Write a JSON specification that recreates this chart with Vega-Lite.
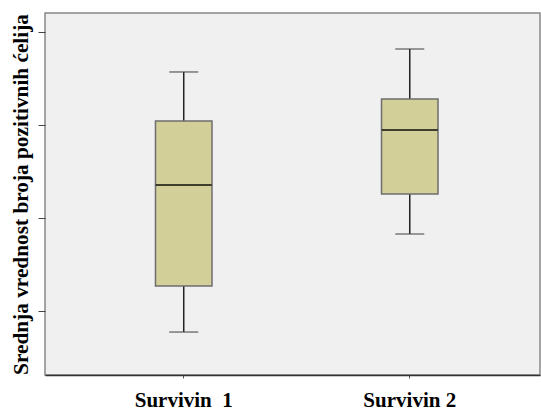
{
  "$schema": "https://vega.github.io/schema/vega-lite/v6.json",
  "autosize": {"type": "none"},
  "width": 495,
  "height": 362,
  "padding": {"left": 45, "top": 13, "right": 1, "bottom": 35},
  "background": "white",
  "config": {
    "view": {"fill": "#f0f0f0", "stroke": "#888888", "strokeWidth": 1.5},
    "font": "Liberation Serif"
  },
  "data": {
    "values": [
      {"grupa": "Survivin \u00a01", "min": 0.774, "q1": 1.269, "median": 2.355, "q3": 3.043, "max": 3.570},
      {"grupa": "Survivin 2", "min": 1.828, "q1": 2.258, "median": 2.946, "q3": 3.280, "max": 3.817}
    ]
  },
  "encoding": {
    "x": {
      "field": "grupa",
      "type": "nominal",
      "sort": null,
      "scale": {"paddingInner": 0.75, "paddingOuter": 0.47, "align": 0.52},
      "axis": {
        "title": null,
        "labelAngle": 0,
        "labelFont": "Liberation Serif",
        "labelFontWeight": "bold",
        "labelFontSize": 21,
        "labelColor": "black",
        "labelPadding": 11,
        "tickSize": 3,
        "tickColor": "#555555",
        "domainColor": "#333333",
        "domainWidth": 1.5
      }
    }
  },
  "layer": [
    {
      "mark": {"type": "rule", "color": "#222222", "strokeWidth": 1.5},
      "encoding": {
        "y": {
          "field": "min",
          "type": "quantitative",
          "scale": {"domain": [0.312, 4.204], "nice": false, "zero": false},
          "axis": {
            "title": "Srednja vrednost broja pozitivnih ćelija",
            "titleFont": "Liberation Serif",
            "titleFontWeight": "bold",
            "titleFontSize": 21.3,
            "titleColor": "black",
            "titlePadding": 6,
            "labels": false,
            "values": [1, 2, 3, 4],
            "tickSize": 7,
            "tickColor": "#444444",
            "domain": false,
            "grid": false
          }
        },
        "y2": {"field": "max"}
      }
    },
    {
      "mark": {"type": "tick", "color": "#444444", "thickness": 1.5, "size": 29},
      "encoding": {"y": {"field": "min", "type": "quantitative"}}
    },
    {
      "mark": {"type": "tick", "color": "#444444", "thickness": 1.5, "size": 29},
      "encoding": {"y": {"field": "max", "type": "quantitative"}}
    },
    {
      "mark": {"type": "bar", "fill": "#d3cf98", "stroke": "#6e6e6e", "strokeWidth": 1.5},
      "encoding": {
        "y": {"field": "q1", "type": "quantitative"},
        "y2": {"field": "q3"}
      }
    },
    {
      "mark": {"type": "tick", "color": "black", "thickness": 2, "size": 56},
      "encoding": {"y": {"field": "median", "type": "quantitative"}}
    }
  ]
}
